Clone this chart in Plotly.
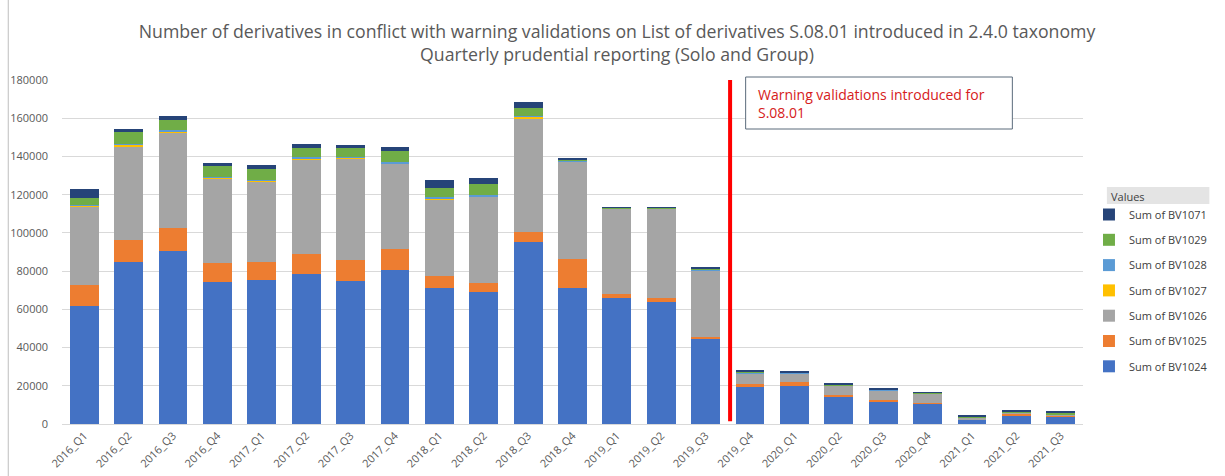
import plotly.graph_objects as go

quarters = ["2016_Q1", "2016_Q2", "2016_Q3", "2016_Q4", "2017_Q1", "2017_Q2", "2017_Q3", "2017_Q4",
            "2018_Q1", "2018_Q2", "2018_Q3", "2018_Q4", "2019_Q1", "2019_Q2", "2019_Q3", "2019_Q4",
            "2020_Q1", "2020_Q2", "2020_Q3", "2020_Q4", "2021_Q1", "2021_Q2", "2021_Q3"]

bv1024 = [62000, 85000, 90500, 74500, 75500, 78500, 75000, 80500, 71300, 69200, 95000, 71000,
          65800, 64000, 44800, 19500, 19900, 14300, 11700, 10800, 2300, 4700, 4000]
bv1025 = [10700, 11100, 12200, 9600, 9100, 10300, 11000, 11000, 6100, 4700, 5600, 15300,
          2400, 1900, 900, 1200, 2100, 700, 800, 200, 100, 900, 200]
bv1026 = [41000, 49000, 49700, 44500, 42200, 49700, 53000, 44800, 40300, 45000, 59500, 51200,
          44700, 46600, 34400, 5800, 4500, 4900, 5100, 4900, 900, 500, 900]
bv1027 = [800, 1300, 900, 500, 700, 300, 200, 200, 200, 200, 900, 100,
          0, 0, 0, 0, 0, 0, 0, 0, 0, 0, 0]
bv1028 = [300, 300, 700, 200, 200, 700, 300, 800, 900, 500, 200, 100,
          100, 100, 300, 200, 200, 200, 200, 300, 200, 100, 100]
bv1029 = [3600, 6100, 5100, 5700, 5600, 5100, 5000, 5700, 4800, 5900, 4200, 800,
          200, 700, 1100, 800, 500, 500, 300, 200, 300, 300, 600]
bv1071 = [4600, 1600, 2200, 1700, 2200, 1900, 1700, 1800, 4000, 3000, 2900, 300,
          300, 200, 400, 700, 500, 500, 400, 300, 400, 500, 500]

series_names = ["Sum of BV1024", "Sum of BV1025", "Sum of BV1026", "Sum of BV1027",
                "Sum of BV1028", "Sum of BV1029", "Sum of BV1071"]
series_values = [bv1024, bv1025, bv1026, bv1027, bv1028, bv1029, bv1071]
colors = ["#4472C4", "#ED7D31", "#A5A5A5", "#FFC000", "#5B9BD5", "#70AD47", "#264478"]

y_ticks = [0, 20000, 40000, 60000, 80000, 100000, 120000, 140000, 160000, 180000]

FONT = "'Open Sans', sans-serif"

fig = go.Figure()
n = len(series_names)
for i, (name, vals, col) in enumerate(zip(series_names, series_values, colors)):
    fig.add_trace(go.Bar(x=quarters, y=vals, name=name, marker=dict(color=col, line=dict(width=0)),
                         legendgroup=name, legendrank=n - i))

W, H = 1225, 476
ml, mr, mt, mb = 62, 137, 80, 52
pw = W - ml - mr
ph = H - mt - mb

def px_x(p):
    return (p - ml) / pw

def px_y(p):
    return (H - mb - p) / ph

fig.update_layout(
    width=W, height=H,
    barmode="stack", bargap=0.35,
    plot_bgcolor="white", paper_bgcolor="white",
    margin=dict(l=ml, r=mr, t=mt, b=mb),
    font=dict(family=FONT, color="#595959", size=11),
    title=dict(
        text="Number of derivatives in conflict with warning validations on List of derivatives S.08.01 introduced in 2.4.0 taxonomy<br>Quarterly prudential reporting (Solo and Group)",
        x=617 / W, xanchor="center", y=1 - 38 / H, yanchor="middle",
        font=dict(family=FONT, size=17.7, color="#595959"),
    ),
    xaxis=dict(type="category", tickangle=-45, tickfont=dict(size=11, color="#595959"),
               showgrid=False, showline=True, linecolor="#D9D9D9", ticks="", automargin=False),
    yaxis=dict(range=[0, 180000], tickvals=y_ticks, ticktext=[str(v) for v in y_ticks],
               showgrid=True, gridcolor="#D9D9D9", gridwidth=1, zeroline=False, automargin=False,
               tickfont=dict(size=11, color="#595959"), ticks="", ticklabelstandoff=13),
    legend=dict(
        traceorder="grouped", tracegroupgap=6.3,
        x=px_x(1094), xanchor="left", y=px_y(200), yanchor="top",
        font=dict(size=11, color="#404040"), itemwidth=30,
        bgcolor="rgba(0,0,0,0)",
    ),
    showlegend=True,
)

# red vertical line marking introduction of warning validations
fig.add_shape(type="line", xref="x", yref="y", x0=14.55, x1=14.55, y0=1500, y1=180000,
              line=dict(color="#FF0000", width=4))

# annotation box and text
fig.add_shape(type="rect", xref="paper", yref="paper", x0=px_x(749), x1=px_x(1017),
              y0=px_y(129), y1=px_y(77), fillcolor="white", line=dict(color="#5A6B7B", width=1))
fig.add_annotation(
    xref="paper", yref="paper", x=px_x(759), y=px_y(103), xanchor="left", yanchor="middle",
    text="Warning validations introduced for<br>S.08.01", align="left", showarrow=False,
    font=dict(family=FONT, size=14, color="#D62020"),
)

# legend header background and title
fig.add_shape(type="rect", xref="paper", yref="paper", x0=px_x(1112), x1=px_x(1215),
              y0=px_y(204), y1=px_y(187), fillcolor="#E4E4E4", line=dict(width=0), layer="below")
fig.add_annotation(xref="paper", yref="paper", x=px_x(1114), y=px_y(196), xanchor="left", yanchor="middle",
                   text="Values", showarrow=False, font=dict(family=FONT, size=11, color="#404040"))

# left border of the chart frame
fig.add_shape(type="line", xref="paper", yref="paper", x0=px_x(8), x1=px_x(8), y0=px_y(476), y1=px_y(0),
              line=dict(color="#BFBFBF", width=1))

fig.write_html("out.html", config={"displayModeBar": False},
               post_script="document.body.style.margin='0';document.body.style.padding='0';")
